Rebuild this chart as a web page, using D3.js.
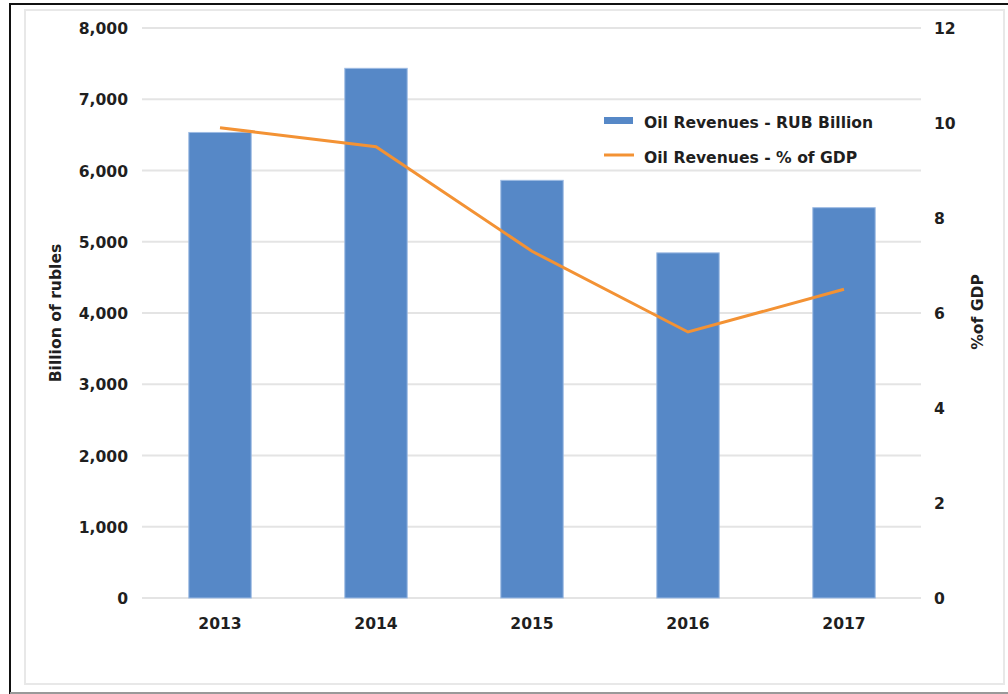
<!DOCTYPE html>
<html>
<head>
<meta charset="utf-8">
<script src="https://cdnjs.cloudflare.com/ajax/libs/d3/7.8.5/d3.min.js"></script>
<style>
  body { margin: 0; background: #fff; }
  svg text { font-family: "DejaVu Sans", sans-serif; font-weight: bold; fill: #1f1f1f; }
</style>
</head>
<body>
<svg id="chart"></svg>
<script>
// data
var years = ["2013", "2014", "2015", "2016", "2017"];
var revenueRub = [6534, 7434, 5862, 4844, 5478];
var revenueGdp = [9.9, 9.5, 7.3, 5.6, 6.5];
var leftTicks = [0, 1000, 2000, 3000, 4000, 5000, 6000, 7000, 8000];
var rightTicks = [0, 2, 4, 6, 8, 10, 12];
var seriesNames = ["Oil Revenues - RUB Billion", "Oil Revenues - % of GDP"];

var width = 1008, height = 694;
var fs = 15.6;
var svg = d3.select("#chart").attr("width", width).attr("height", height);

// frames
svg.append("rect").attr("x", 25).attr("y", 10).attr("width", 979).attr("height", 674)
  .attr("fill", "none").attr("stroke", "#e8e8e8").attr("stroke-width", 2);
svg.append("line").attr("x1", 9).attr("x2", width).attr("y1", 4).attr("y2", 4)
  .attr("stroke", "#111").attr("stroke-width", 2);
svg.append("line").attr("x1", 10).attr("x2", 10).attr("y1", 3).attr("y2", height)
  .attr("stroke", "#111").attr("stroke-width", 2);
svg.append("line").attr("x1", 10).attr("x2", width).attr("y1", 693).attr("y2", 693)
  .attr("stroke", "#999").attr("stroke-width", 2);

var x = d3.scaleBand().domain(years).range([142, 922]).paddingInner(0.6).paddingOuter(0.3);
var y = d3.scaleLinear().domain([0, 8000]).range([598, 28]);
var y2 = d3.scaleLinear().domain([0, 12]).range([598, 28]);

// grid
svg.append("g").selectAll("line").data(leftTicks).join("line")
  .attr("x1", 142).attr("x2", 921)
  .attr("y1", function(d) { return y(d); }).attr("y2", function(d) { return y(d); })
  .attr("stroke", "#e4e4e4").attr("stroke-width", 2);

// left axis
var leftAxis = svg.append("g").attr("transform", "translate(128,0)")
  .call(d3.axisLeft(y).tickValues(leftTicks).tickFormat(d3.format(",")).tickSize(0).tickPadding(0));
leftAxis.select(".domain").remove();
leftAxis.selectAll("text").attr("font-size", fs).attr("dy", "0.36em").attr("fill", "#1f1f1f");

// right axis
var rightAxis = svg.append("g").attr("transform", "translate(934,0)")
  .call(d3.axisRight(y2).tickValues(rightTicks).tickSize(0).tickPadding(0));
rightAxis.select(".domain").remove();
rightAxis.selectAll("text").attr("font-size", fs).attr("dy", "0.36em").attr("fill", "#1f1f1f");

// x axis
var xAxis = svg.append("g").attr("transform", "translate(0,598)")
  .call(d3.axisBottom(x).tickSize(0).tickPadding(0));
xAxis.select(".domain").remove();
xAxis.selectAll("text").attr("font-size", fs).attr("dy", "31px").attr("fill", "#1f1f1f");

// bars
svg.append("g").selectAll("rect").data(years).join("rect")
  .attr("x", function(d) { return x(d); })
  .attr("width", x.bandwidth())
  .attr("y", function(d, i) { return y(revenueRub[i]); })
  .attr("height", function(d, i) { return y(0) - y(revenueRub[i]); })
  .attr("fill", "#5688c7").attr("stroke", "#9dbbe3").attr("stroke-width", 1);

// line
var line = d3.line()
  .x(function(d, i) { return x(years[i]) + x.bandwidth() / 2; })
  .y(function(d) { return y2(d); });
svg.append("path").datum(revenueGdp).attr("d", line)
  .attr("fill", "none").attr("stroke", "#f39234").attr("stroke-width", 3);

// axis titles
svg.append("text").attr("transform", "translate(61,313) rotate(-90)")
  .attr("text-anchor", "middle").attr("font-size", fs).text("Billion of rubles");
svg.append("text").attr("transform", "translate(983,312) rotate(-90)")
  .attr("text-anchor", "middle").attr("font-size", fs).text("%of GDP");

// legend
var legend = svg.append("g");
legend.append("rect").attr("x", 604).attr("y", 117).attr("width", 29).attr("height", 7).attr("fill", "#5688c7");
legend.append("line").attr("x1", 604).attr("x2", 634).attr("y1", 155).attr("y2", 155)
  .attr("stroke", "#f39234").attr("stroke-width", 3);
legend.selectAll("text").data(seriesNames).join("text")
  .attr("x", 644).attr("y", function(d, i) { return 128 + i * 35; })
  .attr("font-size", fs).text(function(d) { return d; });
</script>
</body>
</html>
